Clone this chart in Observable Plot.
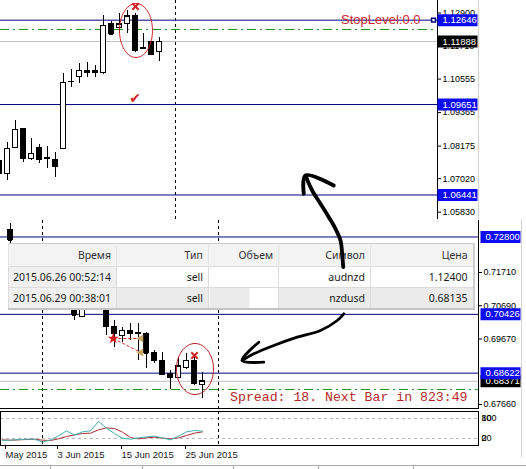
<!DOCTYPE html>
<html><head><meta charset="utf-8">
<script src="https://cdn.jsdelivr.net/npm/d3@7"></script>
<script src="https://cdn.jsdelivr.net/npm/@observablehq/plot@0.6"></script>
<style>
body{margin:0;background:#fff}
#wrap{position:relative;width:526px;height:469px;overflow:hidden;background:#fff;font-family:"Liberation Sans",Arial,sans-serif}
#wrap svg{position:absolute;left:0}
.chrome{position:absolute;background:#d4d4d4}
#tbl{position:absolute;left:8px;top:243px;width:465px;border-collapse:collapse;table-layout:fixed;font-family:"Noto Sans",sans-serif;font-size:10.5px;color:#1a1a1a;z-index:5;border-right:2px solid #cfcfcf;border-bottom:2px solid #c4c4c4}
#tbl th,#tbl td{text-align:right;padding:0 5px 0 0;white-space:nowrap;overflow:hidden;font-weight:normal;vertical-align:middle}
#tbl thead tr{height:23px;background:#f3f3f3;border-top:1px solid #c9c9c9;border-bottom:1px solid #dedede}
#tbl th{color:#333;border-left:1px solid #e4e4e4}
#tbl tbody tr{height:21px;border-top:1px solid #dcdcdc}
#tbl td{border-left:1px solid #dcdcdc}
#tbl tbody tr.r1{background:#fff}
#tbl tbody tr.r2{background:#ebebeb}
#tbl tbody td.c0{background:#f0f0f0}
#tbl tbody tr.r2 td.c2{background:linear-gradient(to right,#ebebeb 0,#ebebeb 40px,#fff 40px)}
</style></head><body><div id="wrap"></div>
<script>
// ---------- top chart (AUDNZD daily) ----------
const topDay   = [0,1,2,3,4,5,6,7,8,9,10,11,12,13,14,15,16,17,18,19,20];
const topOpen  = [1.07664,1.07202,1.08125,1.08800,1.07735,1.08125,1.07740,1.07699,1.08090,1.10468,1.10646,1.10859,1.10859,1.10788,1.12492,1.12385,1.12492,1.12776,1.11675,1.11853,1.11533];
const topHigh  = [1.07770,1.08303,1.09084,1.08800,1.08445,1.08232,1.08161,1.07948,1.10752,1.10894,1.11107,1.11143,1.11036,1.12811,1.12598,1.12882,1.12989,1.12882,1.12172,1.11853,1.12030];
const topLow   = [1.07096,1.06954,1.08125,1.07593,1.07664,1.07557,1.07380,1.07060,1.08090,1.10255,1.10397,1.10610,1.10610,1.10717,1.12101,1.12172,1.12172,1.11498,1.11604,1.11391,1.11178];
const topClose = [1.07202,1.08090,1.08764,1.07735,1.07912,1.07699,1.07730,1.07451,1.10433,1.10460,1.10859,1.10788,1.10788,1.12456,1.12137,1.12492,1.12776,1.11569,1.11640,1.11427,1.11888];
const topTicks = [1.12900,1.11710,1.10555,1.09365,1.08175,1.07020,1.05830];
const topNavyLevels = [1.12646,1.09651,1.06441];
const topBid = [1.11888];
const topGreen = [1.12314];
const topSeparators = [22];
const stopLabel = ["StopLevel:0.0"];

// ---------- bottom chart (NZDUSD daily) ----------
const botDay   = [-4,4,5,8,9,10,11,12,13,14,15,16,17,18,19,20];
const botOpen  = [0.73029,0.70851,0.70360,0.70700,0.70053,0.69777,0.69930,0.69840,0.69838,0.69225,0.69010,0.68611,0.68488,0.68795,0.69010,0.68243];
const botHigh  = [0.73214,0.71000,0.70900,0.70750,0.70237,0.70022,0.70145,0.70145,0.69869,0.69317,0.69255,0.68703,0.69102,0.69225,0.69163,0.68641];
const botLow   = [0.72385,0.70237,0.70360,0.69777,0.69409,0.69562,0.69623,0.69010,0.68764,0.68918,0.68550,0.68120,0.68458,0.68734,0.68243,0.67844];
const botClose = [0.72692,0.70391,0.70700,0.70053,0.69838,0.69930,0.69838,0.69836,0.69225,0.69010,0.68580,0.68488,0.68826,0.69010,0.68304,0.68371];
const botTicks = [0.71710,0.70690,0.69670,0.67660];
const botNavyLevels = [0.72800,0.70426,0.68622];
const botBid = [0.68371];
const botGreen = [0.68120];
const botSeparators = [0,22];
const spreadText = ["Spread: 18. Next Bar in 823:49"];

// ---------- indicator sub-window ----------
const indDay  = [-5,-4,-3,-2,-1,0,1,2,3,4,5,6,7,8,9,10,11,12,13,14,15,16,17,18,19,20];
const indTeal = [14,15,17,18,18,9,16,28,43,30,40,43,71,51,35,21,18,22,25,27,22,16,27,40,44,42];
const indRed  = [16,15,16,17,18,15,14,19,26,31,35,36,46,52,50,39,23,19,22,24,21,19,22,29,36,40];
const indLevels = [80,20];
const indLabelText  = ["100","80","20","0"];
const indLabelLevel = [80,80,20,20];
const xTickDays   = [-4.5,2,10,18];
const xTickLabels = ["May 2015","3 Jun 2015","15 Jun 2015","25 Jun 2015"];

// ---------- trade table ----------
const tableHeader = ["Время","Тип","Объем","Символ","Цена"];
const tableTime   = ["2015.06.26 00:52:14","2015.06.29 00:38:01"];
const tableType   = ["sell","sell"];
const tableVolume = ["",""];
const tableSymbol = ["audnzd","nzdusd"];
const tablePrice  = ["1.12400","0.68135"];

// ---------- annotations ----------
const topEllipse = [{d:17.06, price:1.12279}];
const topCross   = [{d:17, price:1.13131}];
const topCheck   = [{d:16.94, price:1.09865}];
const botEllipse = [{d:19.06, price:0.68749}];
const botCross   = [{d:19, price:0.69163}];
const tradeOpen  = [{d:8.85, price:0.69685}];
const tradeClose = [{d:12.3, price:0.69685},{d:12.3, price:0.69255}];
const arrowUpperD = [32.875,33.71,34.75,35.79,36.625,37.25,37.46,37.59];
const arrowUpperP = [0.74686,0.74226,0.73818,0.73407,0.73051,0.72692,0.72284,0.71873];
const arrowUpperHeadD = [32.66,32.875,36.41];
const arrowUpperHeadP = [0.74125,0.74686,0.74380];
const arrowLowerD = [37.66,36.84,34.75,31.84,28.91,26.41,24.96];
const arrowLowerP = [0.70443,0.70237,0.69930,0.69725,0.69470,0.69215,0.69010];
const arrowLowerHeadD = [27.04,24.96,27.66];
const arrowLowerHeadP = [0.69571,0.69010,0.68958];

// ---------- helpers ----------
const fmt5 = d3.format(".5f");
const KAPPA = 0.5523;
function ellipseSymbol(rx, ry) {
  return {draw(c) {
    c.moveTo(rx, 0);
    c.bezierCurveTo(rx, ry*KAPPA, rx*KAPPA, ry, 0, ry);
    c.bezierCurveTo(-rx*KAPPA, ry, -rx, ry*KAPPA, -rx, 0);
    c.bezierCurveTo(-rx, -ry*KAPPA, -rx*KAPPA, -ry, 0, -ry);
    c.bezierCurveTo(rx*KAPPA, -ry, rx, -ry*KAPPA, rx, 0);
    c.closePath();
  }};
}
function boxSymbol(x0, w, h) {
  return {draw(c) { c.moveTo(x0, -h/2); c.lineTo(x0+w, -h/2); c.lineTo(x0+w, h/2); c.lineTo(x0, h/2); c.closePath(); }};
}
const HW = 0.27;
function candleMarks(rows) {
  return [
    Plot.ruleX(rows, {x:"d", y1:"low", y2:"high", stroke:"black", shapeRendering:"crispEdges"}),
    Plot.rect(rows, {filter:r=>r.close>=r.open, x1:r=>r.d-HW, x2:r=>r.d+HW, y1:"open", y2:"close", fill:"white", stroke:"black", shapeRendering:"crispEdges"}),
    Plot.rect(rows, {filter:r=>r.close<r.open, x1:r=>r.d-HW, x2:r=>r.d+HW, y1:"open", y2:"close", fill:"black", stroke:"black", shapeRendering:"crispEdges"}),
    Plot.ruleY(rows, {x1:r=>r.d-HW, x2:r=>r.d+HW, y:"close", stroke:"black", shapeRendering:"crispEdges"})
  ];
}
const rowsOf = (D,O,H,L,C) => D.map((d,i)=>({d, open:O[i], high:H[i], low:L[i], close:C[i]}));
const topRows = rowsOf(topDay, topOpen, topHigh, topLow, topClose);
const botRows = rowsOf(botDay, botOpen, botHigh, botLow, botClose);
const svgStyle = {background:"transparent", fontFamily:"'Liberation Sans', Arial, sans-serif", fontSize:"9px", color:"black"};
const NAVY = "#000080", BLUE = "#0c0cf2", GREEN = "#1e961e", RED = "#d02525";
const id = v => v;

function priceBoxes(bid, navy, x0, w) {
  return [
    Plot.dot(bid, {y:id, frameAnchor:"right", symbol:boxSymbol(x0,w,12), fill:"black", stroke:"none"}),
    Plot.text(bid, {y:id, text:fmt5, frameAnchor:"right", dx:x0+5, textAnchor:"start", fill:"white", fontSize:9.5}),
    Plot.dot(navy, {y:id, frameAnchor:"right", symbol:boxSymbol(x0,w,12), fill:BLUE, stroke:"none"}),
    Plot.text(navy, {y:id, text:fmt5, frameAnchor:"right", dx:x0+5, textAnchor:"start", fill:"white", fontSize:9.5})
  ];
}

const wrap = document.getElementById("wrap");
function place(svg, top, z) { svg.style.top = top + "px"; svg.style.zIndex = z; wrap.appendChild(svg); }

// ---------- top plot ----------
const topPlot = Plot.plot({
  width:478, height:219, marginLeft:0, marginRight:41, marginTop:0, marginBottom:0,
  x:{domain:[0,20], range:[-1,159], axis:null},
  y:{domain:[1.0583,1.129], range:[211.7,12.5]},
  style:svgStyle,
  marks:[
    Plot.ruleX(topSeparators, {x:id, stroke:"black", strokeDasharray:"3,3"}),
    Plot.ruleY(topBid, {y:id, stroke:"#c0c0c0"}),
    Plot.ruleY(topGreen, {y:id, stroke:GREEN, strokeDasharray:"9,4,2,4"}),
    Plot.ruleY(topNavyLevels, {y:id, stroke:NAVY}),
    ...candleMarks(topRows),
    Plot.dot(topEllipse, {x:"d", y:"price", symbol:ellipseSymbol(16.5,27), fill:"none", stroke:RED, strokeWidth:1}),
    Plot.dot(topCross, {x:"d", y:"price", symbol:"times", r:3, stroke:RED, strokeWidth:2}),
    Plot.text(topCheck, {x:"d", y:"price", text:()=>"✔", fill:RED, fontSize:14, fontFamily:"DejaVu Sans"}),
    Plot.text(stopLabel, {y:()=>topNavyLevels[0], text:id, frameAnchor:"right", dx:-17, textAnchor:"end", fill:"#cc2630", fontSize:13}),
    Plot.dot(topNavyLevels.slice(0,1), {y:id, frameAnchor:"right", dx:-4, symbol:"square", r:2.2, fill:"white", stroke:NAVY}),
    Plot.axisY(topTicks, {anchor:"right", tickSize:3, tickPadding:2, tickFormat:fmt5, label:null, fontSize:9}),
    Plot.frame({anchor:"right"}),
    ...priceBoxes(topBid, topNavyLevels, 0, 40)
  ]
});
place(topPlot, 0, 1);

// ---------- bottom plot ----------
const botPlot = Plot.plot({
  width:521, height:190, marginLeft:0, marginRight:43, marginTop:1, marginBottom:1,
  x:{domain:[0,20], range:[42,202], axis:null},
  y:{domain:[0.6766,0.7171], range:[185,53]},
  style:svgStyle,
  marks:[
    Plot.ruleX(botSeparators, {x:id, stroke:"black", strokeDasharray:"3,3"}),
    Plot.ruleY(botBid, {y:id, stroke:"#c0c0c0"}),
    Plot.ruleY(botGreen, {y:id, stroke:GREEN, strokeDasharray:"9,4,2,4"}),
    Plot.ruleY(botNavyLevels, {y:id, stroke:NAVY}),
    ...candleMarks(botRows),
    Plot.link(tradeClose, {x1:()=>tradeOpen[0].d, y1:()=>tradeOpen[0].price, x2:"d", y2:"price", stroke:RED, strokeDasharray:"3,2"}),
    Plot.dot(tradeClose, {x:"d", y:"price", symbol:"triangle", rotate:-90, r:3, fill:"#caa866", stroke:"none"}),
    Plot.dot(tradeOpen, {x:"d", y:"price", symbol:"star", r:3.5, fill:"#d01818", stroke:"none"}),
    Plot.dot(botEllipse, {x:"d", y:"price", symbol:ellipseSymbol(18.5,25.5), fill:"none", stroke:"#b02020", strokeWidth:1}),
    Plot.dot(botCross, {x:"d", y:"price", symbol:"times", r:3, stroke:RED, strokeWidth:2}),
    Plot.text(spreadText, {text:id, frameAnchor:"bottom-right", dx:-11, dy:-8, textAnchor:"end", fill:"#b42828", fontSize:13.2, fontFamily:"'Liberation Mono', monospace"}),
    Plot.axisY(botTicks, {anchor:"right", tickSize:3, tickPadding:2, tickFormat:fmt5, label:null, fontSize:9}),
    Plot.frame({anchor:"right"}),
    Plot.frame({anchor:"bottom"}),
    ...priceBoxes(botBid, botNavyLevels, 2, 40)
  ]
});
place(botPlot, 219, 1);

// ---------- indicator plot ----------
const indRows = indDay.map((d,i)=>({d, teal:indTeal[i], red:indRed[i]}));
const indLabels = indLabelText.map((t,i)=>({text:t, level:indLabelLevel[i]}));
const xLabelOf = new Map(xTickDays.map((d,i)=>[d, xTickLabels[i]]));
const indPlot = Plot.plot({
  width:521, height:60, marginLeft:0, marginRight:43, marginTop:2, marginBottom:24,
  x:{domain:[0,20], range:[42,202]},
  y:{domain:[0,100], range:[35.7,2.3], axis:null},
  style:svgStyle,
  marks:[
    Plot.ruleY(indLevels, {y:id, stroke:"#b8b8b8", strokeDasharray:"3,3"}),
    Plot.ruleX(botSeparators, {x:id, stroke:"black", strokeDasharray:"3,3"}),
    Plot.line(indRows, {x:"d", y:"red", stroke:"#a83030", strokeWidth:1}),
    Plot.line(indRows, {x:"d", y:"teal", stroke:"#45b0b0", strokeWidth:1}),
    Plot.frame({stroke:"black"}),
    Plot.text(indLabels, {y:"level", text:"text", frameAnchor:"right", dx:3, textAnchor:"start", fontSize:9}),
    Plot.axisX(xTickDays, {anchor:"bottom", tickSize:4, tickPadding:2, tickFormat:d=>xLabelOf.get(d), textAnchor:"start", dx:-1, label:null, fontSize:9.5, fill:"#1a1a1a"})
  ]
});
place(indPlot, 409, 1);

// ---------- trade table ----------
const tbl = document.createElement("table");
tbl.id = "tbl";
const colW = [108,92,70,92,103];
let html = "<colgroup>" + colW.map(w=>`<col style="width:${w}px">`).join("") + "</colgroup>";
html += "<thead><tr>" + tableHeader.map(h=>`<th>${h}</th>`).join("") + "</tr></thead><tbody>";
tableTime.forEach((t,i)=>{
  const cells = [t, tableType[i], tableVolume[i], tableSymbol[i], tablePrice[i]];
  html += `<tr class="r${i+1}">` + cells.map((c,j)=>`<td class="c${j}">${c}</td>`).join("") + "</tr>";
});
html += "</tbody>";
tbl.innerHTML = html;
wrap.appendChild(tbl);

// ---------- hand-drawn arrow overlay ----------
const arrowRows = [
  ...arrowUpperD.map((d,i)=>({z:"up", d, p:arrowUpperP[i]})),
  ...arrowUpperHeadD.map((d,i)=>({z:"uphead", d, p:arrowUpperHeadP[i]})),
  ...arrowLowerD.map((d,i)=>({z:"low", d, p:arrowLowerP[i]})),
  ...arrowLowerHeadD.map((d,i)=>({z:"lowhead", d, p:arrowLowerHeadP[i]}))
];
const overlay = Plot.plot({
  width:526, height:469, margin:0,
  x:{domain:[0,20], range:[42,202], axis:null},
  y:{domain:[0.6766,0.7171], range:[404,272], axis:null},
  style:svgStyle,
  marks:[
    Plot.line(arrowRows, {filter:r=>r.z.startsWith("up"), x:"d", y:"p", z:"z", curve:"catmull-rom", stroke:"black", strokeWidth:3.8, strokeLinecap:"round", strokeLinejoin:"round"}),
    Plot.line(arrowRows, {filter:r=>r.z.startsWith("low"), x:"d", y:"p", z:"z", curve:"catmull-rom", stroke:"black", strokeWidth:2.8, strokeLinecap:"round", strokeLinejoin:"round"})
  ]
});
overlay.style.pointerEvents = "none";
place(overlay, 0, 6);

// ---------- window chrome ----------
function chrome(l,t,w,h,c) { const e=document.createElement("div"); e.className="chrome"; Object.assign(e.style,{left:l+"px",top:t+"px",width:w+"px",height:h+"px"}); if(c) e.style.background=c; wrap.appendChild(e); }
chrome(478,0,1,219);
chrome(521,219,1,238);
chrome(0,465,526,1,"#a9a9a9");
[50,142,233,318,413].forEach(x=>chrome(x,466,1,3,"#a9a9a9"));
</script></body></html>
